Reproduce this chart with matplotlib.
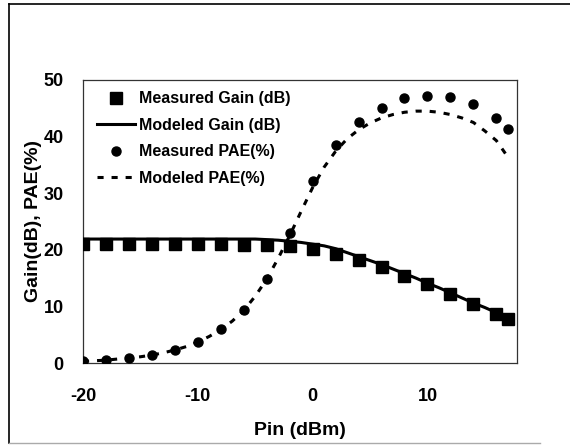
import matplotlib
matplotlib.use("Agg")
import matplotlib.pyplot as plt
from matplotlib.lines import Line2D

plt.rcParams['font.family'] = ['Liberation Sans', 'DejaVu Sans']
plt.rcParams['font.weight'] = 'bold'
plt.rcParams['axes.unicode_minus'] = False

# Measured gain (dB) vs Pin (dBm)
pin_meas = [-20, -18, -16, -14, -12, -10, -8, -6, -4, -2, 0, 2, 4, 6, 8, 10, 12, 14, 16, 17]
gain_meas = [21.0, 21.0, 21.0, 21.0, 21.0, 21.0, 21.0, 20.9, 20.8, 20.6,
             20.2, 19.3, 18.2, 16.9, 15.4, 13.9, 12.2, 10.4, 8.6, 7.7]
# Measured PAE (%)
pae_meas = [0.3, 0.5, 0.9, 1.4, 2.3, 3.7, 6.0, 9.4, 14.9, 23.0,
            32.2, 38.5, 42.5, 45.0, 46.8, 47.2, 47.0, 45.8, 43.2, 41.3]

# Modeled curves
pin_model = [-20, -19, -18, -17, -16, -15, -14, -13, -12, -11, -10, -9, -8, -7, -6, -5,
             -4, -3, -2, -1, 0, 1, 2, 3, 4, 5, 6, 7, 8, 9, 10, 11, 12, 13, 14, 15, 16, 17]
gain_model = [21.9, 21.9, 21.9, 21.9, 21.9, 21.9, 21.9, 21.9, 21.9, 21.9, 21.9, 21.9,
              21.9, 21.9, 21.9, 21.9, 21.8, 21.7, 21.5, 21.3, 21.0, 20.7, 20.2, 19.5,
              18.8, 18.1, 17.4, 16.6, 15.8, 15.0, 14.1, 13.3, 12.4, 11.5, 10.6, 9.8,
              8.9, 7.9]
pae_model = [0.3, 0.4, 0.5, 0.7, 0.9, 1.1, 1.4, 1.8, 2.3, 2.9, 3.7, 4.7, 5.9, 7.4,
             9.3, 11.8, 14.8, 18.5, 22.5, 26.8, 31.0, 34.6, 37.4, 39.6, 41.2, 42.4,
             43.3, 43.9, 44.3, 44.5, 44.5, 44.3, 43.9, 43.3, 42.5, 41.0, 39.3, 36.4]

xticks = [-20, -10, 0, 10]
yticks = [0, 10, 20, 30, 40, 50]

W, H = 570, 445
fig = plt.figure(figsize=(W / 100, H / 100), dpi=100)
ax = fig.add_axes([83 / W, 1 - 363 / H, (517 - 83) / W, (363 - 80) / H])

ax.plot(pin_model, gain_model, color='black', lw=2.2, label='Modeled Gain (dB)', zorder=3)
ax.plot(pin_meas, gain_meas, linestyle='none', marker='s', ms=8, color='black',
        label='Measured Gain (dB)', zorder=4)
ax.plot(pin_meas, pae_meas, linestyle='none', marker='o', ms=6.5, color='black',
        label='Measured PAE(%)', zorder=4)
ax.plot(pin_model, pae_model, color='black', lw=2.2, linestyle=(0, (2, 2.6)),
        label='Modeled PAE(%)', zorder=3)

ax.set_xlim(-20, 17.8)
ax.set_ylim(0, 50)
ax.set_xticks(xticks)
ax.set_yticks(yticks)
ax.tick_params(length=0, labelsize=13)
for lab in ax.get_xticklabels() + ax.get_yticklabels():
    lab.set_fontweight('bold')
ax.tick_params(axis='y', pad=14)
ax.tick_params(axis='x', pad=18)
for s in ax.spines.values():
    s.set_color('#333333')
    s.set_linewidth(0.9)

ax.set_xlabel('Pin (dBm)', fontsize=14, fontweight='bold', labelpad=12)
ax.set_ylabel('Gain(dB), PAE(%)', fontsize=14, fontweight='bold', labelpad=1)

handles, labels = ax.get_legend_handles_labels()
order = [1, 0, 2, 3]
leg = ax.legend([handles[i] for i in order], [labels[i] for i in order],
                loc='upper left', bbox_to_anchor=(0.032, 0.96), frameon=False,
                borderpad=0, borderaxespad=0, handlelength=2.4, handletextpad=0.25,
                labelspacing=0.72, prop={'size': 11.5, 'weight': 'bold'})

# outer frame (scanned figure border)
fig.add_artist(Line2D([9 / W, 1.0], [1 - 4 / H, 1 - 4 / H], color='black', lw=1.2))
fig.add_artist(Line2D([9 / W, 9 / W], [1 - 4 / H, 1 - 443 / H], color='black', lw=1.2))
fig.add_artist(Line2D([9 / W, 540 / W], [1 - 443 / H, 1 - 443 / H], color='#aaaaaa', lw=1.0))

fig.savefig('out.png', dpi=100)
